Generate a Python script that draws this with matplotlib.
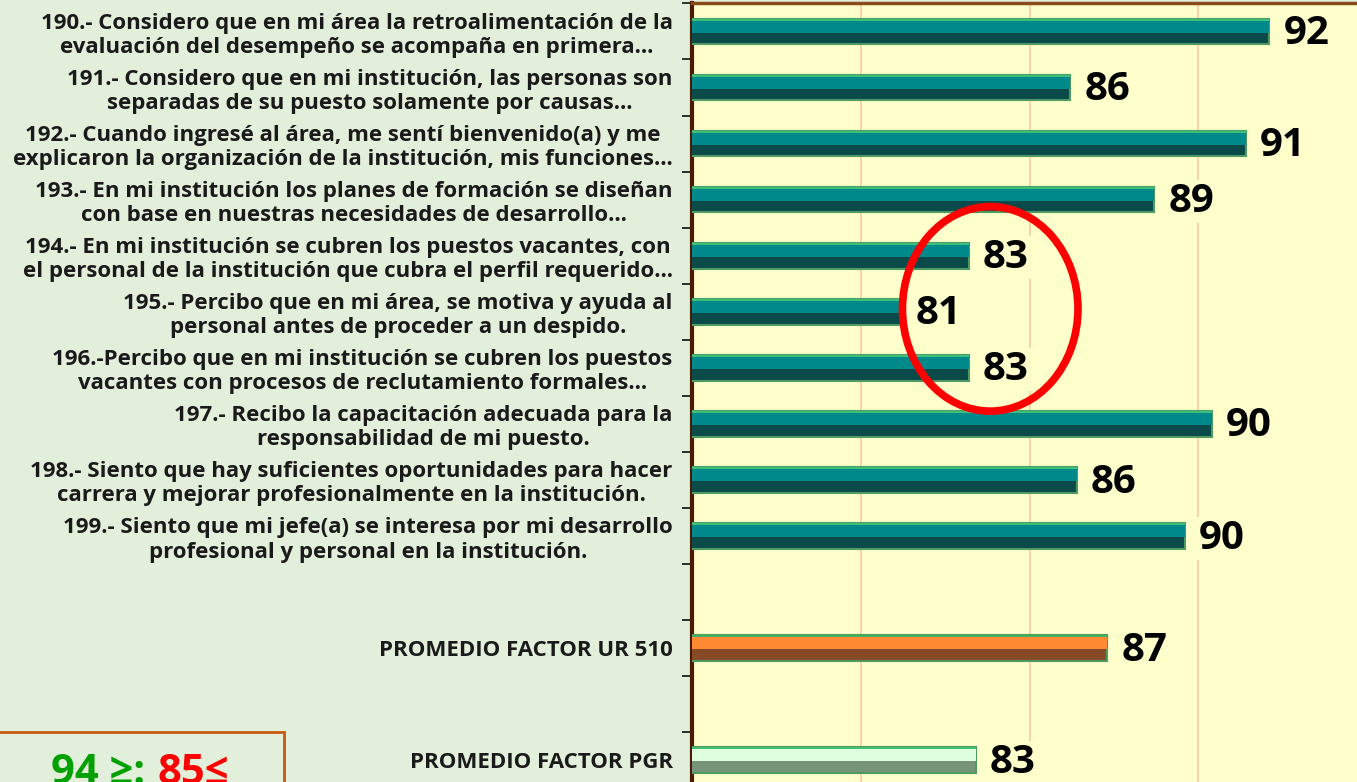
import matplotlib.pyplot as plt
import numpy as np
from matplotlib.patches import Ellipse, Rectangle

plt.rcParams['font.family'] = ['Open Sans', 'DejaVu Sans']

# preguntas (de arriba hacia abajo), con espacios vacios entre grupos
labels = [
    "190.- Considero que en mi área la retroalimentación de la\nevaluación del desempeño se acompaña en primera…",
    "191.- Considero que en mi institución, las personas son\nseparadas de su puesto solamente por causas…",
    "192.- Cuando ingresé al área, me sentí bienvenido(a) y me\nexplicaron la organización de la institución, mis funciones…",
    "193.- En mi institución los planes de formación se diseñan\ncon base en nuestras necesidades de desarrollo…",
    "194.- En mi institución se cubren los puestos vacantes, con\nel personal de la institución que cubra el perfil requerido…",
    "195.- Percibo que en mi área, se motiva y ayuda al\npersonal antes de proceder a un despido.",
    "196.-Percibo que en mi institución se cubren los puestos\nvacantes con procesos de reclutamiento formales…",
    "197.- Recibo la capacitación adecuada para la\nresponsabilidad de mi puesto.",
    "198.- Siento que hay suficientes oportunidades para hacer\ncarrera y mejorar profesionalmente en la institución.",
    "199.- Siento que mi jefe(a) se interesa por mi desarrollo\nprofesional y personal en la institución.",
    "",
    "PROMEDIO FACTOR UR 510",
    "",
    "PROMEDIO FACTOR PGR",
]
values = [92.1, 86.2, 91.4, 88.7, 83.2, 81.2, 83.2, 90.4, 86.4, 89.6, None, 87.3, None, 83.4]
value_labels = ["92", "86", "91", "89", "83", "81", "83", "90", "86", "90", "", "87", "", "83"]
kind = ["item"] * 10 + ["", "ur", "", "pgr"]

# colores (claro arriba, oscuro abajo, borde) para cada tipo de barra
styles = {
    "item": ("#00898B", "#0B4A4A", "#3DC07A"),
    "ur": ("#FF8A33", "#874A26", "#45B060"),
    "pgr": ("#DDFFDD", "#789478", "#45C070"),
}

XMIN, XMAX = 75, 94.7
H = 0.46

fig = plt.figure(figsize=(13.57, 7.82), dpi=100, facecolor="#E2EFDA")
ax = fig.add_axes([0.51, -0.0077, 0.49, 1.0033])
ax.set_facecolor("#FFFFCC")

# eje y invertido: p - H/2 es el borde superior de la barra
pos = np.arange(len(labels))
for p, v, k in zip(pos, values, kind):
    if v is None:
        continue
    top, bot, edge = styles[k]
    ax.barh(p, v, height=H, color=bot, edgecolor="#4E9A62", linewidth=1.5, zorder=3)
    ax.barh(p - 0.095, v, height=0.23, color=top, linewidth=0, zorder=3)
    ax.barh(p - 0.207, v, height=0.035, color=edge, linewidth=0, zorder=3)

for p, v, t in zip(pos, values, value_labels):
    if v is None:
        continue
    ax.text(v + 0.42, p + 0.04, t, fontsize=29, fontweight="bold", color="black",
            va="center", ha="left", zorder=4,
            bbox=dict(boxstyle="square,pad=0.05", fc="#FFFFCC", ec="none"))

ax.set_xlim(XMIN, XMAX)
ax.set_ylim(len(labels) - 0.5, -0.5)
ax.set_xticks([80, 85, 90])
ax.xaxis.grid(True, color="#F8C9A0", linewidth=1.2, zorder=0)
ax.tick_params(axis="x", length=0, labelbottom=False)

ax.set_yticks(pos)
ax.set_yticklabels(labels, fontsize=16, fontweight="bold", color="#1A1A1A",
                   multialignment="center", linespacing=1.2)
ax.set_yticks(np.arange(len(labels) + 1) - 0.5, minor=True)
ax.tick_params(axis="y", which="major", length=0, pad=14)
ax.tick_params(axis="y", which="minor", length=7, width=1.3, color="#222222")

for s in ["right", "bottom"]:
    ax.spines[s].set_visible(False)
ax.spines["left"].set_color("#4A1A05")
ax.spines["left"].set_linewidth(3)
ax.spines["top"].set_color("#8B4A1A")
ax.spines["top"].set_linewidth(2.5)

# circulo rojo alrededor de los items 194-196
low = [i for i in range(4, 7)]
cx = np.mean([values[i] for i in low]) + 1.3
ax.add_patch(Ellipse((cx, np.mean(low) - 0.05), 5.2, 3.65, fill=False,
                     edgecolor="#FF0000", linewidth=5.5, zorder=5))

# recuadro de rangos
fig.patches.append(Rectangle((-0.01, -0.05), 0.2195, 0.1145, transform=fig.transFigure,
                             fill=False, edgecolor="#C55A11", linewidth=2))
fig.text(0.107, -0.003, "94 ≥:", color="#00A000", fontsize=30, fontweight="bold",
         ha="right", va="baseline")
fig.text(0.116, -0.003, "85≤", color="#FF0000", fontsize=30, fontweight="bold",
         ha="left", va="baseline")

fig.savefig("out.png", dpi=100, facecolor=fig.get_facecolor())
